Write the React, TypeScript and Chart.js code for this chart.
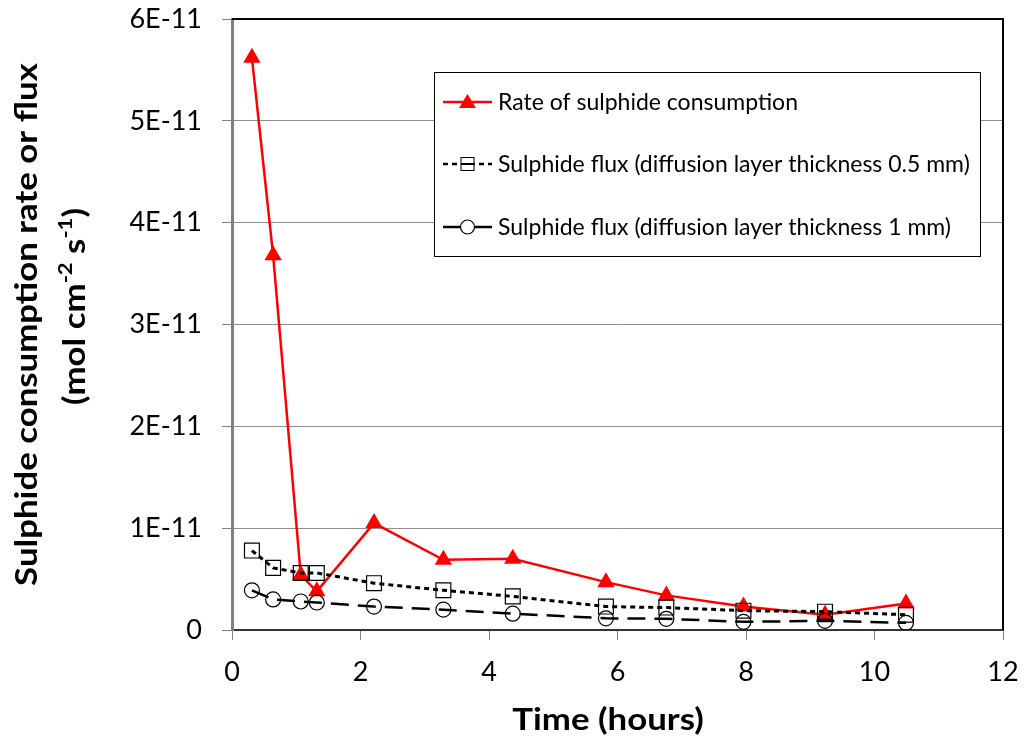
import React, { useEffect, useRef } from 'react';
import { Chart, registerables } from 'chart.js';

Chart.register(...registerables);

// Elapsed time of each measurement (hours)
const timeHours = [0.31, 0.64, 1.07, 1.32, 2.21, 3.29, 4.37, 5.82, 6.76, 7.96, 9.23, 10.49];

// Measured rate of sulphide consumption (mol cm-2 s-1)
const consumptionRate = [5.62e-11, 3.68e-11, 0.54e-11, 0.38e-11, 1.05e-11, 0.69e-11, 0.7e-11, 0.47e-11, 0.34e-11, 0.23e-11, 0.15e-11, 0.26e-11];

// Calculated sulphide flux, 0.5 mm diffusion layer
const flux05mm = [0.78e-11, 0.61e-11, 0.56e-11, 0.56e-11, 0.46e-11, 0.39e-11, 0.33e-11, 0.23e-11, 0.22e-11, 0.19e-11, 0.18e-11, 0.15e-11];

// Calculated sulphide flux, 1 mm diffusion layer
const flux1mm = [0.39e-11, 0.3e-11, 0.28e-11, 0.27e-11, 0.23e-11, 0.2e-11, 0.16e-11, 0.115e-11, 0.11e-11, 0.08e-11, 0.09e-11, 0.07e-11];

const seriesLabels = [
  'Rate of sulphide consumption',
  'Sulphide flux (diffusion layer thickness 0.5 mm)',
  'Sulphide flux (diffusion layer thickness 1 mm)',
];

const yTickLabels = ['0', '1E-11', '2E-11', '3E-11', '4E-11', '5E-11', '6E-11'];
const xTitle = 'Time (hours)';
const yTitleLine1 = 'Sulphide consumption rate or flux';
// second line of the y title: [text, isSuperscript]
const yTitleLine2: [string, boolean][] = [
  ['(mol cm', false],
  ['-2', true],
  [' s', false],
  ['-1', true],
  [')', false],
];

const RED = '#ff0000';
const SHORT_DASH = [5, 4];
const LONG_DASH = [18, 9];
const TITLE_FONT = 'bold 30px Lato';
const SUP_FONT = 'bold 19px Lato';
const TITLE_STRETCH = 1.16;

const toPoints = (ys: number[]) => timeHours.map((x, i) => ({ x, y: ys[i] }));

// Plot frame, boxed legend and axis titles
const frameLegendTitles = {
  id: 'frameLegendTitles',
  afterDatasetsDraw(chart: any) {
    const { ctx, chartArea: a } = chart;
    ctx.save();
    ctx.setLineDash([]);
    ctx.strokeStyle = '#000';
    ctx.lineWidth = 2;
    ctx.beginPath();
    ctx.moveTo(a.left, a.top);
    ctx.lineTo(a.right, a.top);
    ctx.lineTo(a.right, a.bottom);
    ctx.stroke();

    const bx = a.left + 202;
    const by = a.top + 53;
    const bw = 546;
    const bh = 184;
    ctx.fillStyle = '#fff';
    ctx.fillRect(bx, by, bw, bh);
    ctx.lineWidth = 1;
    ctx.strokeStyle = '#000';
    ctx.strokeRect(bx + 0.5, by + 0.5, bw, bh);

    const rows = [by + 30, by + 92, by + 155];
    const x0 = bx + 9;
    const x1 = bx + 58;
    const mx = (x0 + x1) / 2;

    // row 1: red line with filled triangle
    ctx.strokeStyle = RED;
    ctx.lineWidth = 2.5;
    ctx.beginPath();
    ctx.moveTo(x0, rows[0]);
    ctx.lineTo(x1, rows[0]);
    ctx.stroke();
    ctx.fillStyle = RED;
    ctx.beginPath();
    ctx.moveTo(mx, rows[0] - 8);
    ctx.lineTo(mx + 8.5, rows[0] + 6);
    ctx.lineTo(mx - 8.5, rows[0] + 6);
    ctx.closePath();
    ctx.fill();

    // row 2: short-dashed black line with open square
    ctx.strokeStyle = '#000';
    ctx.lineWidth = 2.5;
    ctx.setLineDash(SHORT_DASH);
    ctx.beginPath();
    ctx.moveTo(x0, rows[1]);
    ctx.lineTo(x1, rows[1]);
    ctx.stroke();
    ctx.setLineDash([]);
    ctx.lineWidth = 1;
    ctx.fillStyle = '#fff';
    ctx.fillRect(mx - 6.5, rows[1] - 6.5, 13, 13);
    ctx.strokeRect(mx - 6.5, rows[1] - 6.5, 13, 13);
    ctx.lineWidth = 2;
    ctx.beginPath();
    ctx.moveTo(mx - 6.5, rows[1]);
    ctx.lineTo(mx + 6.5, rows[1]);
    ctx.stroke();

    // row 3: black line with open circle
    ctx.lineWidth = 2.5;
    ctx.beginPath();
    ctx.moveTo(x0, rows[2]);
    ctx.lineTo(mx - 7, rows[2]);
    ctx.moveTo(mx + 7, rows[2]);
    ctx.lineTo(x1, rows[2]);
    ctx.stroke();
    ctx.lineWidth = 1.2;
    ctx.beginPath();
    ctx.arc(mx, rows[2], 7, 0, Math.PI * 2);
    ctx.stroke();

    ctx.fillStyle = '#000';
    ctx.font = '23px Lato';
    ctx.textBaseline = 'middle';
    ctx.textAlign = 'left';
    seriesLabels.forEach((t, i) => ctx.fillText(t, x1 + 6, rows[i] + 1));
    ctx.restore();
  },
  afterDraw(chart: any) {
    const { ctx, chartArea: a } = chart;
    ctx.save();
    ctx.fillStyle = '#000';
    ctx.textBaseline = 'middle';

    // x axis title
    ctx.save();
    ctx.translate(a.left + 376, a.bottom + 90);
    ctx.scale(TITLE_STRETCH, 1);
    ctx.font = TITLE_FONT;
    ctx.textAlign = 'center';
    ctx.fillText(xTitle, 0, 0);
    ctx.restore();

    const cy = (a.top + a.bottom) / 2;

    // y axis title, first line
    ctx.save();
    ctx.translate(27, cy);
    ctx.rotate(-Math.PI / 2);
    ctx.scale(TITLE_STRETCH, 1);
    ctx.font = TITLE_FONT;
    ctx.textAlign = 'center';
    ctx.fillText(yTitleLine1, 0, 0);
    ctx.restore();

    // y axis title, second line with superscripts
    ctx.save();
    ctx.translate(75, cy - 18);
    ctx.rotate(-Math.PI / 2);
    ctx.scale(TITLE_STRETCH, 1);
    ctx.textAlign = 'left';
    const widths = yTitleLine2.map(([t, sup]) => {
      ctx.font = sup ? SUP_FONT : TITLE_FONT;
      return ctx.measureText(t).width;
    });
    let x = -widths.reduce((s, w) => s + w, 0) / 2;
    yTitleLine2.forEach(([t, sup], i) => {
      ctx.font = sup ? SUP_FONT : TITLE_FONT;
      ctx.fillText(t, x, sup ? -9 : 0);
      x += widths[i];
    });
    ctx.restore();

    ctx.restore();
  },
};

export default function App() {
  const canvasRef = useRef<HTMLCanvasElement>(null);

  useEffect(() => {
    const canvas = canvasRef.current;
    if (!canvas) return;
    const tickFont = { family: 'Lato', size: 27 };
    const chart = new Chart(canvas, {
      type: 'line',
      data: {
        datasets: [
          {
            label: seriesLabels[0],
            data: toPoints(consumptionRate),
            borderColor: RED,
            backgroundColor: RED,
            borderWidth: 2.5,
            pointStyle: 'triangle',
            pointRadius: 10,
            pointBorderWidth: 0,
            pointBackgroundColor: RED,
            tension: 0,
            order: 3,
          },
          {
            label: seriesLabels[1],
            data: toPoints(flux05mm),
            borderColor: '#000',
            borderWidth: 3,
            borderDash: SHORT_DASH,
            pointStyle: 'rect',
            pointRadius: 10.5,
            pointBorderWidth: 1.2,
            pointBorderColor: '#000',
            pointBackgroundColor: 'rgba(0,0,0,0)',
            tension: 0,
            order: 2,
          },
          {
            label: seriesLabels[2],
            data: toPoints(flux1mm),
            borderColor: '#000',
            borderWidth: 2.5,
            borderDash: LONG_DASH,
            pointStyle: 'circle',
            pointRadius: 7.5,
            pointBorderWidth: 1.2,
            pointBorderColor: '#000',
            pointBackgroundColor: 'rgba(0,0,0,0)',
            tension: 0,
            order: 1,
          },
        ],
      },
      options: {
        responsive: false,
        animation: false,
        devicePixelRatio: 1,
        layout: { padding: { top: 19, right: 21, left: 0, bottom: 0 } },
        plugins: { legend: { display: false }, tooltip: { enabled: false } },
        scales: {
          x: {
            type: 'linear',
            min: 0,
            max: 12,
            ticks: { stepSize: 2, font: tickFont, color: '#000', padding: 16, maxRotation: 0 },
            grid: { drawOnChartArea: false, drawTicks: true, tickLength: 10, tickColor: '#808080' },
            border: { color: '#333', width: 2 },
            afterFit: (s: any) => {
              s.height = 108;
              s.paddingLeft = 0;
              s.paddingRight = 0;
            },
          },
          y: {
            type: 'linear',
            min: 0,
            max: 6e-11,
            ticks: {
              stepSize: 1e-11,
              font: tickFont,
              color: '#000',
              padding: 20,
              callback: (_v: any, i: number) => yTickLabels[i],
            },
            grid: { color: '#909090', lineWidth: 1, tickLength: 10, tickColor: '#808080' },
            border: { color: '#808080', width: 3 },
            afterFit: (s: any) => {
              s.width = 232;
              s.paddingTop = 0;
              s.paddingBottom = 0;
            },
          },
        },
      },
      plugins: [frameLegendTitles],
    } as any);
    return () => chart.destroy();
  }, []);

  return (
    <div style={{ position: 'absolute', left: 0, top: 0, width: 1024, height: 738, background: '#fff' }}>
      <canvas ref={canvasRef} width={1024} height={738} style={{ display: 'block' }} />
    </div>
  );
}
